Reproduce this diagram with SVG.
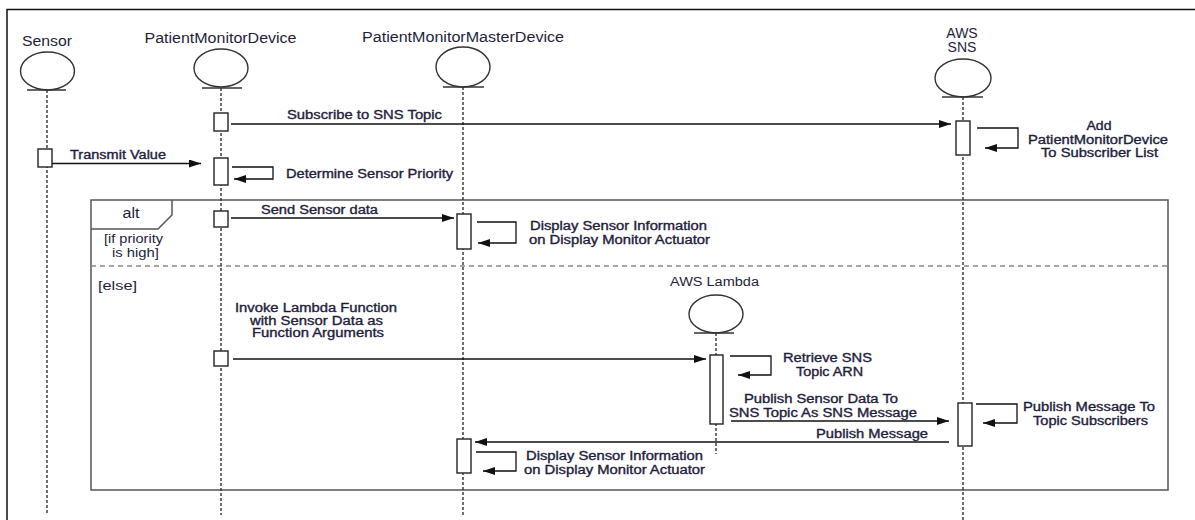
<svg xmlns="http://www.w3.org/2000/svg" width="1195" height="520" viewBox="0 0 1195 520">
<style>
  .bg{fill:#ffffff}
  .frame{fill:none;stroke:#111;stroke-width:1.5}
  .alt{fill:none;stroke:#555;stroke-width:1.5}
  .sep{fill:none;stroke:#888;stroke-width:1.5;stroke-dasharray:5 4}
  .head{fill:#fff;stroke:#333;stroke-width:1.4}
  .base{stroke:#333;stroke-width:1.4}
  .life{stroke:#333;stroke-width:1.4;stroke-dasharray:3 2;fill:none}
  .act{fill:#fff;stroke:#222;stroke-width:1.4}
  .msg{fill:none;stroke:#111;stroke-width:1.3}
  .t{font-family:"Liberation Sans",Arial,sans-serif;fill:#1e1e3c}
  .h{font-size:14px}
  .m{font-size:12px;stroke:#1e1e3c;stroke-width:0.35}
  .n{font-size:12px}
  .c{text-anchor:middle}
</style>
<defs>
  <marker id="ah" viewBox="0 0 12 8" refX="12" refY="4" markerWidth="12" markerHeight="8" markerUnits="userSpaceOnUse" orient="auto">
    <path d="M0,0 L12,4 L0,8 Z" fill="#111"/>
  </marker>
</defs>
<rect class="bg" x="0" y="0" width="1195" height="520"/>
<path class="frame" d="M7,520 L7,9.5 L1195,9.5"/>

<g id="alt-frame">
  <rect class="alt" x="91" y="200" width="1077" height="290"/>
  <path class="alt" d="M91,229 L158,229 L172,215 L172,200"/>
  <text class="t h c" x="131" y="218" textLength="17" lengthAdjust="spacingAndGlyphs">alt</text>
  <text class="t n c" x="133.5" y="243" textLength="59" lengthAdjust="spacingAndGlyphs">[if priority</text>
  <text class="t n c" x="135.5" y="257" textLength="47" lengthAdjust="spacingAndGlyphs">is high]</text>
  <line class="sep" x1="91" y1="266" x2="1168" y2="266"/>
  <text class="t n" x="98" y="290" textLength="39" lengthAdjust="spacingAndGlyphs">[else]</text>
</g>

<g id="sensor">
  <text class="t h c" x="47" y="46" textLength="50" lengthAdjust="spacingAndGlyphs">Sensor</text>
  <ellipse class="head" cx="47.5" cy="71" rx="27" ry="19"/>
  <line class="base" x1="27" y1="90" x2="66" y2="90"/>
  <line class="life" x1="47" y1="90" x2="47" y2="513"/>
  <rect class="act" x="38" y="149" width="14" height="18"/>
</g>

<g id="patient-monitor-device">
  <text class="t h c" x="220.5" y="43" textLength="152" lengthAdjust="spacingAndGlyphs">PatientMonitorDevice</text>
  <ellipse class="head" cx="221" cy="68" rx="27" ry="19"/>
  <line class="base" x1="202" y1="88" x2="242" y2="88"/>
  <line class="life" x1="221" y1="88" x2="221" y2="515"/>
  <rect class="act" x="214" y="113" width="14" height="18"/>
  <rect class="act" x="214" y="158" width="14" height="27"/>
  <rect class="act" x="214" y="211" width="14" height="16"/>
  <rect class="act" x="214" y="351" width="14" height="15"/>
</g>

<g id="patient-monitor-master-device">
  <text class="t h c" x="463" y="42" textLength="202" lengthAdjust="spacingAndGlyphs">PatientMonitorMasterDevice</text>
  <ellipse class="head" cx="463" cy="67" rx="27" ry="20"/>
  <line class="base" x1="443" y1="87" x2="484" y2="87"/>
  <line class="life" x1="463" y1="87" x2="463" y2="515"/>
  <rect class="act" x="457" y="214" width="14" height="35"/>
  <rect class="act" x="457" y="439" width="14" height="34"/>
</g>

<g id="aws-sns">
  <text class="t h c" x="962" y="38">AWS</text>
  <text class="t h c" x="962" y="52">SNS</text>
  <ellipse class="head" cx="963" cy="78" rx="28" ry="19"/>
  <line class="base" x1="942" y1="97" x2="983" y2="97"/>
  <line class="life" x1="963" y1="97" x2="963" y2="520"/>
  <rect class="act" x="956" y="121" width="14" height="34"/>
  <rect class="act" x="958" y="403" width="14" height="43"/>
</g>

<g id="aws-lambda">
  <text class="t n c" x="714.5" y="286" textLength="89" lengthAdjust="spacingAndGlyphs">AWS Lambda</text>
  <ellipse class="head" cx="716" cy="314" rx="27" ry="19"/>
  <line class="base" x1="694" y1="333" x2="734" y2="333"/>
  <line class="life" x1="716" y1="333" x2="716" y2="454"/>
  <rect class="act" x="710" y="355" width="13" height="69"/>
</g>

<g id="connectors">
  <line class="msg" x1="231" y1="124" x2="951" y2="124" marker-end="url(#ah)"/>
  <path class="msg" d="M977,128 L1018,128 L1018,148 L985,148" marker-end="url(#ah)"/>
  <line class="msg" x1="52" y1="163.5" x2="201" y2="163.5" marker-end="url(#ah)"/>
  <path class="msg" d="M232,167 L273,167 L273,179 L234,179" marker-end="url(#ah)"/>
  <line class="msg" x1="231" y1="218" x2="454" y2="218" marker-end="url(#ah)"/>
  <path class="msg" d="M477,222 L516,222 L516,243 L478,243" marker-end="url(#ah)"/>
  <line class="msg" x1="233" y1="359" x2="706" y2="359" marker-end="url(#ah)"/>
  <path class="msg" d="M730,356 L771,356 L771,375 L738,375" marker-end="url(#ah)"/>
  <line class="msg" x1="731" y1="421" x2="949" y2="421" marker-end="url(#ah)"/>
  <path class="msg" d="M976,404 L1017,404 L1017,423 L983,423" marker-end="url(#ah)"/>
  <line class="msg" x1="949" y1="442" x2="475" y2="442" marker-end="url(#ah)"/>
  <path class="msg" d="M476,452 L516,452 L516,471 L483,471" marker-end="url(#ah)"/>
</g>

<g id="labels">
  <text class="t m" x="287" y="119" textLength="155" lengthAdjust="spacingAndGlyphs">Subscribe to SNS Topic</text>
  <text class="t m c" x="1099" y="130" textLength="25" lengthAdjust="spacingAndGlyphs">Add</text>
  <text class="t m c" x="1098" y="144" textLength="140" lengthAdjust="spacingAndGlyphs">PatientMonitorDevice</text>
  <text class="t m c" x="1099.5" y="157" textLength="117" lengthAdjust="spacingAndGlyphs">To Subscriber List</text>
  <text class="t m" x="70" y="159" textLength="96" lengthAdjust="spacingAndGlyphs">Transmit Value</text>
  <text class="t m" x="286" y="178" textLength="167" lengthAdjust="spacingAndGlyphs">Determine Sensor Priority</text>
  <text class="t m" x="261" y="214" textLength="117" lengthAdjust="spacingAndGlyphs">Send Sensor data</text>
  <text class="t m" x="530" y="230" textLength="177" lengthAdjust="spacingAndGlyphs">Display Sensor Information</text>
  <text class="t m" x="529" y="244" textLength="181" lengthAdjust="spacingAndGlyphs">on Display Monitor Actuator</text>
  <text class="t m c" x="316" y="312" textLength="162" lengthAdjust="spacingAndGlyphs">Invoke Lambda Function</text>
  <text class="t m c" x="316.5" y="324.5" textLength="133" lengthAdjust="spacingAndGlyphs">with Sensor Data as</text>
  <text class="t m c" x="318" y="337" textLength="132" lengthAdjust="spacingAndGlyphs">Function Arguments</text>
  <text class="t m c" x="827.5" y="362" textLength="89" lengthAdjust="spacingAndGlyphs">Retrieve SNS</text>
  <text class="t m c" x="829.5" y="375.5" textLength="67" lengthAdjust="spacingAndGlyphs">Topic ARN</text>
  <text class="t m c" x="821" y="403" textLength="154" lengthAdjust="spacingAndGlyphs">Publish Sensor Data To</text>
  <text class="t m c" x="823" y="417" textLength="188" lengthAdjust="spacingAndGlyphs">SNS Topic As SNS Message</text>
  <text class="t m c" x="1089" y="411" textLength="132" lengthAdjust="spacingAndGlyphs">Publish Message To</text>
  <text class="t m c" x="1090.5" y="425" textLength="115" lengthAdjust="spacingAndGlyphs">Topic Subscribers</text>
  <text class="t m c" x="872" y="438" textLength="112" lengthAdjust="spacingAndGlyphs">Publish Message</text>
  <text class="t m" x="526" y="460" textLength="177" lengthAdjust="spacingAndGlyphs">Display Sensor Information</text>
  <text class="t m" x="524" y="474" textLength="181" lengthAdjust="spacingAndGlyphs">on Display Monitor Actuator</text>
</g>
</svg>
